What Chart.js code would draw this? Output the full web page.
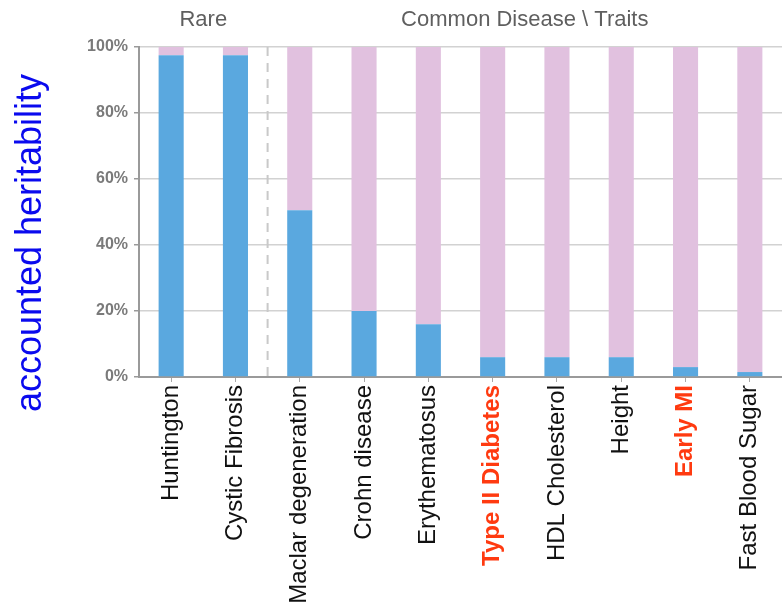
<!DOCTYPE html>
<html>
<head>
<meta charset="utf-8">
<script src="https://cdn.jsdelivr.net/npm/chart.js@4.4.1/dist/chart.umd.min.js"></script>
<style>
  html, body { margin: 0; padding: 0; background: #fff; }
  #wrap { width: 782px; height: 609px; }
</style>
</head>
<body>
<div id="wrap"><canvas id="heritChart"></canvas></div>
<script>
// categories + values (percent)
var categories = ['Huntington', 'Cystic Fibrosis', 'Maclar degeneration', 'Crohn disease',
  'Erythematosus', 'Type II Diabetes', 'HDL Cholesterol', 'Height', 'Early MI', 'Fast Blood Sugar'];
var accounted = [97.5, 97.5, 50.5, 20, 16, 6, 6, 6, 3, 1.5];
var remaining = [2.5, 2.5, 49.5, 80, 84, 94, 94, 94, 97, 98.5];
var highlighted = ['Type II Diabetes', 'Early MI'];
var yTicks = [0, 20, 40, 60, 80, 100];
var groups = [
  { label: 'Rare', from: 0, to: 1 },
  { label: 'Common Disease \\ Traits', from: 2, to: 9 }
];

var FONT = '"Liberation Sans", Arial, Helvetica, sans-serif';

// dashed separator, group headers and the y title
var extras = {
  id: 'extras',
  afterDraw: function(chart) {
    var ctx = chart.ctx, x = chart.scales.x, area = chart.chartArea;
    ctx.save();
    var sepX = (x.getPixelForValue(1) + x.getPixelForValue(2)) / 2;
    ctx.strokeStyle = '#c9c9c9';
    ctx.lineWidth = 2;
    ctx.setLineDash([9, 7]);
    ctx.beginPath();
    ctx.moveTo(sepX, area.top);
    ctx.lineTo(sepX, area.bottom);
    ctx.stroke();
    ctx.setLineDash([]);

    ctx.fillStyle = '#5f5f5f';
    ctx.font = '22px ' + FONT;
    ctx.textAlign = 'center';
    ctx.textBaseline = 'middle';
    groups.forEach(function(g) {
      var cx = (x.getPixelForValue(g.from) + x.getPixelForValue(g.to)) / 2;
      ctx.fillText(g.label, cx, 20);
    });

    ctx.translate(31, 243);
    ctx.rotate(-Math.PI / 2);
    ctx.fillStyle = '#0a0aee';
    ctx.font = '36px ' + FONT;
    ctx.fillText('accounted heritability', 0, 0);
    ctx.restore();
  }
};

var ctx = document.getElementById('heritChart').getContext('2d');
var heritChart = new Chart(ctx, {
  type: 'bar',
  data: {
    labels: categories,
    datasets: [{
      label: 'accounted',
      data: accounted,
      backgroundColor: '#5aa8df',
      borderWidth: 0
    }, {
      label: 'remaining',
      data: remaining,
      backgroundColor: '#e1c1df',
      borderWidth: 0
    }]
  },
  options: {
    responsive: true,
    maintainAspectRatio: false,
    animation: false,
    layout: { padding: { top: 47, left: 40, right: 0, bottom: 0 } },
    plugins: {
      legend: { display: false },
      tooltip: { enabled: false }
    },
    datasets: {
      bar: { categoryPercentage: 1, barPercentage: 0.39 }
    },
    scales: {
      x: {
        stacked: true,
        afterFit: function(s) { s.height = 232; },
        border: { color: '#9a9a9a', width: 2 },
        grid: { offset: false, drawOnChartArea: false, drawTicks: true, tickLength: 5, color: '#a8a8a8' },
        ticks: {
          minRotation: 90,
          maxRotation: 90,
          autoSkip: false,
          padding: 3,
          color: function(c) {
            return highlighted.indexOf(categories[c.index]) >= 0 ? '#ff3a10' : '#111';
          },
          font: function(c) {
            var hl = highlighted.indexOf(categories[c.index]) >= 0;
            return { family: FONT, size: 24, weight: hl ? 'bold' : 'normal' };
          }
        }
      },
      y: {
        stacked: true,
        min: 0,
        max: 100,
        afterFit: function(s) { s.width = 99; },
        afterBuildTicks: function(s) {
          s.ticks = yTicks.map(function(v) { return { value: v }; });
        },
        border: { color: '#9a9a9a', width: 2 },
        grid: { color: '#d2d2d2', lineWidth: 1.5, tickLength: 5, tickColor: '#9a9a9a' },
        ticks: {
          padding: 6,
          color: '#7a7a7a',
          font: { family: FONT, size: 16, weight: 'bold' },
          callback: function(v) { return v + '%'; }
        }
      }
    }
  },
  plugins: [extras]
});
</script>
</body>
</html>
